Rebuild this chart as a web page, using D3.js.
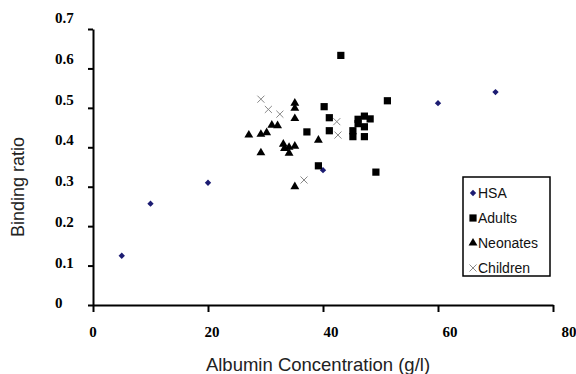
<!DOCTYPE html>
<html>
<head>
<meta charset="utf-8">
<script src="https://cdn.jsdelivr.net/npm/d3@7"></script>
<style>
  body { margin: 0; background: #fff; }
  svg { display: block; }
</style>
</head>
<body>
<div id="chart"></div>
<script>
// data: [albumin g/l, binding ratio]
var hsa = [[5, 0.125], [10, 0.257], [20, 0.31], [40, 0.342], [60, 0.512], [70, 0.54]];
var adults = [[43.1, 0.633], [40.2, 0.503], [51.2, 0.518], [41.1, 0.475], [41.1, 0.442],
    [37.2, 0.439], [39.2, 0.353], [49.2, 0.337], [45.2, 0.442], [45.2, 0.427],
    [46.1, 0.471], [47.2, 0.479], [48.2, 0.472], [47.2, 0.452], [47.2, 0.427], [46.1, 0.46]];
var neonates = [[27.1, 0.431], [29.2, 0.433], [30.2, 0.437], [29.2, 0.386], [31.1, 0.456],
    [32.1, 0.455], [33.1, 0.408], [33.3, 0.397], [34.1, 0.4], [35.1, 0.403], [34.1, 0.385],
    [35.1, 0.512], [35.1, 0.499], [35.1, 0.473], [35.1, 0.3], [39.2, 0.418]];
var children = [[29.2, 0.522], [30.5, 0.496], [32.5, 0.484], [36.7, 0.317], [42.4, 0.465], [42.6, 0.431]];

var xTicks = [0, 20, 40, 60, 80];
var yTicks = [0, 0.1, 0.2, 0.3, 0.4, 0.5, 0.6, 0.7];
var yTickLabels = ["0", "0.1", "0.2", "0.3", "0.4", "0.5", "0.6", "0.7"];
var seriesNames = ["HSA", "Adults", "Neonates", "Children"];

var width = 576, height = 374;

var svg = d3.select("#chart").append("svg")
    .attr("width", width)
    .attr("height", height);

// Scales
var x = d3.scaleLinear().domain([0, 80]).range([93, 553]);
var y = d3.scaleLinear().domain([0, 0.7]).range([305, 29]);
// the tick labels sit a bit spread out from the ticks in the original
var xLab = d3.scaleLinear().domain([0, 80]).range([93, 569]);
var yLab = d3.scaleLinear().domain([0, 0.7]).range([303, 18]);

// axes
var xAxis = svg.append("g")
    .attr("transform", "translate(0," + y(0) + ")")
    .call(d3.axisBottom(x).tickValues(xTicks).tickSize(7).tickSizeOuter(0).tickFormat(""));
var yAxis = svg.append("g")
    .attr("transform", "translate(" + x(0) + ",0)")
    .call(d3.axisLeft(y).tickValues(yTicks).tickSize(5).tickSizeOuter(0).tickFormat(""));

[xAxis, yAxis].forEach(function(a) {
    a.selectAll("path, line").attr("stroke", "#000").attr("stroke-width", 2);
});

svg.append("g").selectAll("text")
    .data(xTicks)
    .join("text")
    .attr("x", function(d) { return xLab(d); })
    .attr("y", 332)
    .attr("dy", "0.35em")
    .attr("text-anchor", "middle")
    .style("font", "bold 15px 'Liberation Serif', serif")
    .text(function(d) { return d; });

svg.append("g").selectAll("text")
    .data(yTicks)
    .join("text")
    .attr("x", 55)
    .attr("y", function(d) { return yLab(d); })
    .attr("dy", "0.35em")
    .style("font", "bold 15px 'Liberation Serif', serif")
    .text(function(d, i) { return yTickLabels[i]; });

// titles
svg.append("text")
    .attr("x", 318)
    .attr("y", 365)
    .attr("dy", "0.35em")
    .attr("text-anchor", "middle")
    .attr("fill", "#222")
    .style("font", "18.5px 'Liberation Sans', Arial, sans-serif")
    .text("Albumin Concentration (g/l)");

svg.append("text")
    .attr("transform", "translate(18,187) rotate(-90)")
    .attr("dy", "0.35em")
    .attr("text-anchor", "middle")
    .attr("fill", "#222")
    .style("font", "18px 'Liberation Sans', Arial, sans-serif")
    .text("Binding ratio");

// marker styles
var styles = [
    {path: d3.symbol(d3.symbolSquare, 20)(), rot: 45, fill: "#1c1c72", stroke: "none"},
    {path: d3.symbol(d3.symbolSquare, 52)(), rot: 0, fill: "#000", stroke: "none"},
    {path: d3.symbol(d3.symbolTriangle, 34)(), rot: 0, fill: "#000", stroke: "none"},
    {path: d3.symbol(d3.symbolX, 34)(), rot: 0, fill: "none", stroke: "#888"}
];

function drawPoints(data, st) {
    svg.append("g").selectAll("path")
        .data(data)
        .join("path")
        .attr("d", st.path)
        .attr("transform", function(d) {
            return "translate(" + x(d[0]) + "," + y(d[1]) + ") rotate(" + st.rot + ")";
        })
        .attr("fill", st.fill)
        .attr("stroke", st.stroke)
        .attr("stroke-width", 1);
}

drawPoints(hsa, styles[0]);
drawPoints(adults, styles[1]);
drawPoints(neonates, styles[2]);
drawPoints(children, styles[3]);

// legend
var legend = svg.append("g");
legend.append("rect")
    .attr("x", 463).attr("y", 177)
    .attr("width", 87).attr("height", 99)
    .attr("fill", "#fff")
    .attr("stroke", "#000")
    .attr("stroke-width", 1.5);

var item = legend.selectAll("g.item")
    .data(seriesNames)
    .join("g")
    .attr("class", "item")
    .attr("transform", function(d, i) { return "translate(473," + (193 + i * 25) + ")"; });

item.append("path")
    .attr("d", function(d, i) { return styles[i].path; })
    .attr("transform", function(d, i) { return "rotate(" + styles[i].rot + ")"; })
    .attr("fill", function(d, i) { return styles[i].fill; })
    .attr("stroke", function(d, i) { return styles[i].stroke; });

item.append("text")
    .attr("x", 5)
    .attr("dy", "0.35em")
    .attr("fill", "#111")
    .style("font", "14px 'Liberation Sans', Arial, sans-serif")
    .text(function(d) { return d; });
</script>
</body>
</html>
